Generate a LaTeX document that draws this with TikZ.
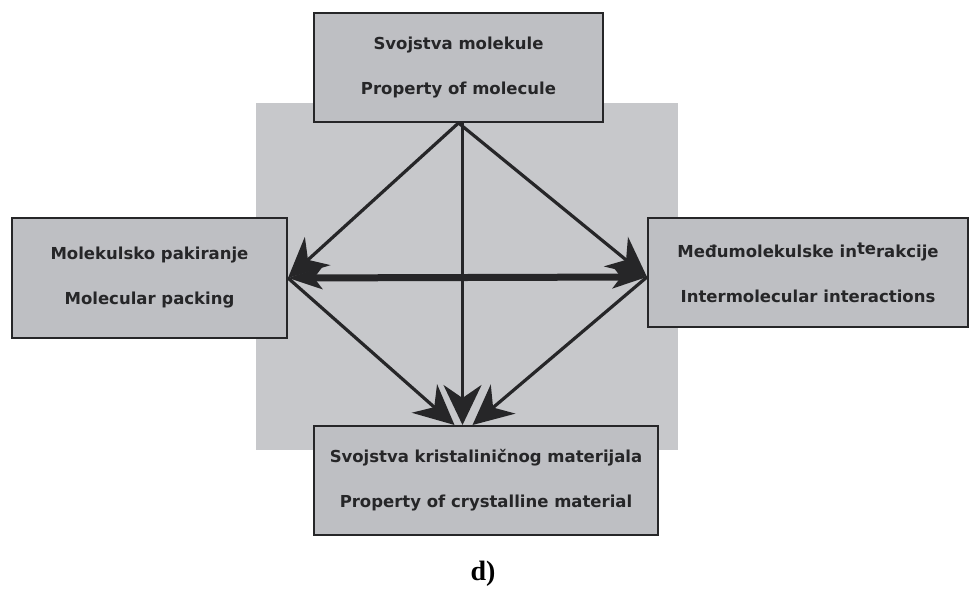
\documentclass[tikz,border=0pt]{standalone}
\usepackage{fontspec}
\setmainfont{Liberation Serif}
\newfontfamily\boxfont{DejaVu Sans}
\usetikzlibrary{arrows.meta}

\definecolor{boxgray}{RGB}{190,191,195}
\definecolor{backgray}{RGB}{199,200,203}
\definecolor{inkgray}{RGB}{38,38,40}

\begin{document}
\begin{tikzpicture}[x=1pt, y=-1pt]

\tikzset{infobox/.style={fill=boxgray, draw=inkgray, line width=2, shape=rectangle, inner sep=0, align=center, text=inkgray, font=\boxfont\bfseries\fontsize{16.5}{45}\selectfont}}
\tikzset{link/.style={-{Stealth[length=40pt, width=38pt, inset=13pt]}, line width=3.2, draw=inkgray, fill=inkgray}}
\tikzset{bothlink/.style={{Stealth[length=34pt, width=22pt, inset=8pt]}-{Stealth[length=34pt, width=22pt, inset=8pt]}, line width=7, draw=inkgray}}

\useasboundingbox (0,0) rectangle (970,591);
\fill[backgray] (256,103) rectangle (678,450);

\node[infobox, minimum width=289, minimum height=109] (mol) at (458.5,67.5) {Svojstva molekule\\Property of molecule};
\node[infobox, minimum width=275, minimum height=120] (pack) at (149.5,278) {Molekulsko pakiranje\\Molecular packing};
\node[infobox, minimum width=320, minimum height=109] (inter) at (808,272.5) {Me\dj umolekulske in\raisebox{3pt}{te}rakcije\\Intermolecular interactions};
\node[infobox, minimum width=344, minimum height=109] (cryst) at (486,480.5) {Svojstva kristalini\v{c}nog materijala\\Property of crystalline material};

\coordinate (iw) at ([yshift=-4.5]inter.west);
\coordinate (mid) at ([xshift=4]mol.south |- cryst.north);

\draw[link] (mol.south) -- (pack.east);
\draw[link] (mol.south) -- (iw);
\draw[link] ([xshift=4]mol.south) -- (mid);
\draw[link] (pack.east) -- ([xshift=-8]mid);
\draw[link] (iw) -- ([xshift=10]mid);
\draw[bothlink] (pack.east) -- (iw);

\node[font=\bfseries\fontsize{28}{32}\selectfont] (cap) at (483,574) {d)};

\end{tikzpicture}
\end{document}
